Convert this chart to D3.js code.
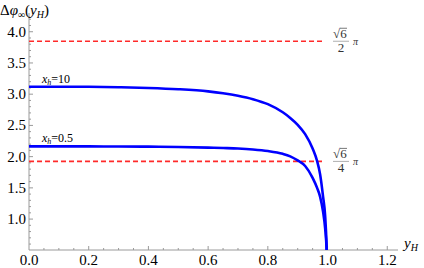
<!DOCTYPE html>
<html><head><meta charset="utf-8">
<script src="https://cdn.jsdelivr.net/npm/d3@7"></script>
<style>body{margin:0;background:#fff}svg{display:block}</style>
</head><body><svg id="c" width="424" height="268"></svg>
<script>
const yH = [0,0.1,0.2,0.3,0.4,0.5,0.6,0.65,0.7,0.75,0.8,0.85,0.875,0.9,0.925,0.95,0.965,0.975,0.985,0.992,0.997,1.0];
const phiXh10 = [3.12,3.12,3.118,3.112,3.10,3.08,3.045,3.015,2.975,2.92,2.84,2.71,2.62,2.51,2.36,2.13,1.93,1.72,1.36,1.05,0.55,0];
const phiXh05 = [2.165,2.165,2.164,2.162,2.16,2.155,2.145,2.138,2.13,2.115,2.09,2.045,2.005,1.94,1.85,1.66,1.50,1.36,1.12,0.85,0.5,0];
const refLines = [Math.sqrt(6)/2*Math.PI, Math.sqrt(6)/4*Math.PI];
const refDen = ["2","4"];
const curveLabels = [{t:"10", v:3.12},{t:"0.5", v:2.165}];
const xTicks = [0,0.2,0.4,0.6,0.8,1.0,1.2];
const yTicks = [1.0,1.5,2.0,2.5,3.0,3.5,4.0];

const svg = d3.select("#c");
const FF = "Liberation Serif";
const x = d3.scaleLinear().domain([0,1.236]).range([29,398]);
const y = d3.scaleLinear().domain([0.505,4.3]).range([250,13]);
const T = (sel)=>sel.append("text").style("font-family",FF);

svg.append("defs").append("clipPath").attr("id","clip").append("rect")
  .attr("x",29).attr("y",0).attr("width",380).attr("height",250);

const axCol="#9a9a9a";
svg.append("line").attr("x1",x(0)).attr("x2",x(1.236)).attr("y1",250).attr("y2",250).attr("stroke",axCol);
svg.append("line").attr("x1",29).attr("x2",29).attr("y1",y(4.3)).attr("y2",250).attr("stroke",axCol);
for(let i=1;i<=24;i++){const v=i*0.05;const maj=Math.abs(v/0.2-Math.round(v/0.2))<1e-6;
  svg.append("line").attr("x1",x(v)).attr("x2",x(v)).attr("y1",250).attr("y2",250-(maj?4:2)).attr("stroke",axCol);}
for(let i=6;i<=42;i++){const v=i*0.1;const maj=Math.abs(v/0.5-Math.round(v/0.5))<1e-6;
  svg.append("line").attr("x1",29).attr("x2",29+(maj?4:2)).attr("y1",y(v)).attr("y2",y(v)).attr("stroke",axCol);}
xTicks.forEach(d=>T(svg).attr("x",x(d)).attr("y",265).attr("text-anchor","middle").attr("font-size",15).text(d.toFixed(1)));
yTicks.forEach(d=>T(svg).attr("x",26).attr("y",y(d)+5).attr("text-anchor","end").attr("font-size",15).text(d.toFixed(1)));

const yl = T(svg).attr("x",0).attr("y",15).attr("font-size",15);
yl.append("tspan").text("Δ");
yl.append("tspan").attr("font-style","italic").text("φ");
yl.append("tspan").attr("font-size",10).attr("dy",3).text("∞");
yl.append("tspan").attr("dy",-3).text("(");
yl.append("tspan").attr("font-style","italic").text("y");
yl.append("tspan").attr("font-size",10).attr("font-style","italic").attr("dy",3).text("H");
yl.append("tspan").attr("dy",-3).text(")");
const xl = T(svg).attr("x",404).attr("y",248).attr("font-size",15);
xl.append("tspan").attr("font-style","italic").text("y");
xl.append("tspan").attr("font-size",10).attr("font-style","italic").attr("dy",3).text("H");

const g = svg.append("g").attr("clip-path","url(#clip)");
refLines.forEach((v,i)=>{
  g.append("line").attr("x1",x(0)).attr("x2",x(0.99)).attr("y1",y(v)).attr("y2",y(v))
   .attr("stroke","#ff2a2a").attr("stroke-width",1.6).attr("stroke-dasharray","5,3");
  const cy=y(v), lx=333;
  const t=T(svg).attr("x",lx).attr("y",cy-3).attr("font-size",13).attr("fill","#333");
  t.append("tspan").text("√");
  t.append("tspan").text("6");
  svg.append("line").attr("x1",lx+7).attr("x2",lx+14).attr("y1",cy-13).attr("y2",cy-13).attr("stroke","#555").attr("stroke-width",0.8);
  svg.append("line").attr("x1",lx).attr("x2",lx+16).attr("y1",cy).attr("y2",cy).attr("stroke","#999").attr("stroke-width",0.8);
  T(svg).attr("x",lx+8).attr("y",cy+11).attr("font-size",13).attr("text-anchor","middle").attr("fill","#333").text(refDen[i]);
  T(svg).attr("x",lx+20).attr("y",cy+4).attr("font-size",10).attr("font-style","italic").attr("fill","#333").text("π");
});

const line = d3.line().x(d=>x(d[0])).y(d=>y(d[1])).curve(d3.curveMonotoneX);
[phiXh10,phiXh05].forEach(s=>{
  g.append("path").attr("d",line(yH.map((v,i)=>[v,s[i]]))).attr("fill","none")
   .attr("stroke","#0000ff").attr("stroke-width",2.6);
});
curveLabels.forEach(c=>{
  const t=T(svg).attr("x",42).attr("y",y(c.v)-4).attr("font-size",12);
  t.append("tspan").attr("font-style","italic").text("x");
  t.append("tspan").attr("font-style","italic").attr("font-size",8).attr("dy",2).text("h");
  t.append("tspan").attr("dy",-2).text("="+c.t);
});
</script></body></html>
